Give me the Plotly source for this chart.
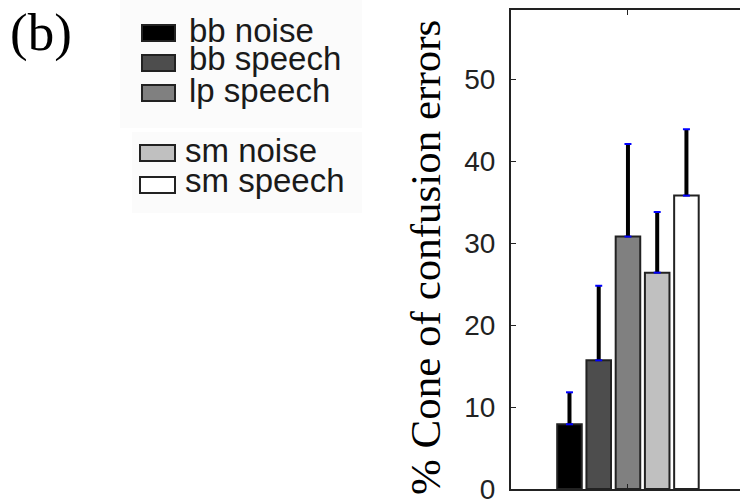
import plotly.graph_objects as go

# ---- data ----
conditions = ["bb noise", "bb speech", "lp speech", "sm noise", "sm speech"]
means = [7.9, 15.7, 30.8, 26.4, 35.8]
err_upper = [3.9, 9.1, 11.3, 7.4, 8.1]
bar_colors = ["#000000", "#4d4d4d", "#808080", "#c0c0c0", "#ffffff"]
y_ticks = [0, 10, 20, 30, 40, 50]
category = ["all"]

W, H = 740, 500
ML, MR, MT, MB = 511, 0, 10, 11
PW, PH = W - ML - MR, H - MT - MB


def px(x):
    return (x - ML) / PW


def py(y):
    return (H - MB - y) / PH


fig = go.Figure()

for i, name in enumerate(conditions):
    fig.add_trace(go.Bar(
        x=category, y=[means[i]], name=name, offsetgroup=str(i),
        marker=dict(color=bar_colors[i], line=dict(color="#222222", width=2)),
        error_y=dict(type="data", array=[err_upper[i]], arrayminus=[0],
                     symmetric=False, color="#000000", thickness=4, width=0),
        showlegend=False,
    ))

for i, name in enumerate(conditions):
    fig.add_trace(go.Scatter(
        x=category * 2, y=[means[i], means[i] + err_upper[i]], mode="markers",
        offsetgroup=str(i), showlegend=False, hoverinfo="skip",
        marker=dict(symbol="line-ew", size=5, line=dict(color="#0000ff", width=2)),
    ))

fig.update_layout(
    width=W, height=H,
    margin=dict(l=ML, r=MR, t=MT, b=MB, autoexpand=False),
    paper_bgcolor="white", plot_bgcolor="white",
    barmode="group", bargap=0.375, bargroupgap=0.16,
    scattermode="group", scattergap=0.375,
    showlegend=False,
)

fig.update_xaxes(
    type="category", range=[-0.5, 0.479], automargin=False,
    showline=True, linecolor="#222222", linewidth=2, mirror="ticks",
    ticks="inside", ticklen=5, tickcolor="#222222", tickwidth=1,
    showticklabels=False, showgrid=False, zeroline=False,
)
fig.update_yaxes(
    range=[0, 58.45], tickvals=y_ticks, automargin=False,
    showline=True, linecolor="#222222", linewidth=2, mirror=False,
    ticks="inside", ticklen=5, tickcolor="#222222", tickwidth=1,
    tickfont=dict(family="Liberation Sans, Arial", size=28, color="#222222"),
    ticklabelstandoff=8, ticklabeloverflow="allow",
    showgrid=False, zeroline=False,
)

shapes = []
annotations = []

# faint legend backgrounds
shapes.append(dict(type="rect", xref="paper", yref="paper", layer="below",
                   x0=px(120), x1=px(362), y0=py(0), y1=py(128),
                   fillcolor="#fbfbfb", line=dict(width=0)))
shapes.append(dict(type="rect", xref="paper", yref="paper", layer="below",
                   x0=px(132), x1=px(362), y0=py(132), y1=py(213),
                   fillcolor="#fbfbfb", line=dict(width=0)))

# legend rows: (box top, box bottom, box left, text x, text centre y)
legend_rows = [(25, 41, 142, 187, 30.5),
               (55, 71, 142, 187, 59),
               (85, 101, 142, 187, 90),
               (145, 161, 140, 183, 150.5),
               (177, 193, 140, 183, 180)]
for i, name in enumerate(conditions):
    y0, y1, bx, tx, ty = legend_rows[i]
    shapes.append(dict(type="rect", xref="paper", yref="paper",
                       x0=px(bx), x1=px(175), y0=py(y1), y1=py(y0),
                       fillcolor=bar_colors[i], line=dict(color="#222222", width=2)))
    annotations.append(dict(xref="paper", yref="paper", x=px(tx), y=py(ty),
                            xanchor="left", yanchor="middle", showarrow=False,
                            text=name,
                            font=dict(family="Liberation Sans, Arial", size=33, color="#1a1a1a")))

annotations.append(dict(xref="paper", yref="paper", x=px(8), y=py(33),
                        xanchor="left", yanchor="middle", showarrow=False,
                        text="(b)",
                        font=dict(family="Liberation Serif, Times New Roman", size=53, color="#000000")))

annotations.append(dict(xref="paper", yref="paper", x=px(425), y=py(258),
                        xanchor="center", yanchor="middle", showarrow=False,
                        textangle=-90,
                        text="% Cone of confusion errors",
                        font=dict(family="Liberation Serif, Times New Roman", size=43, color="#000000")))

fig.update_layout(shapes=shapes, annotations=annotations)

fig.write_html("out.html")
